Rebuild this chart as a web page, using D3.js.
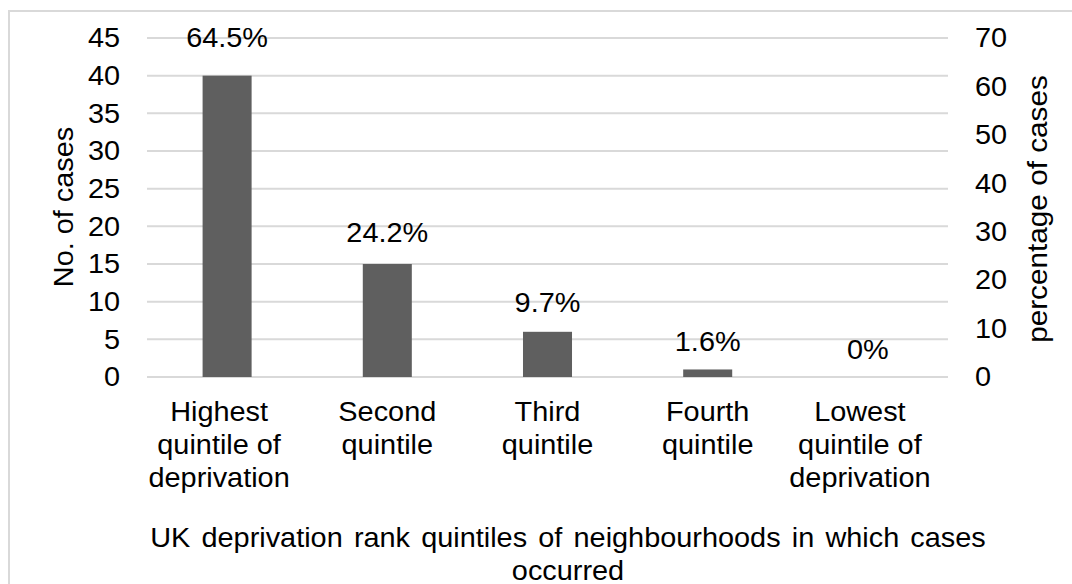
<!DOCTYPE html>
<html>
<head>
<meta charset="utf-8">
<script src="https://cdn.jsdelivr.net/npm/d3@7"></script>
<style>
  html, body { margin: 0; padding: 0; background: #fff; }
  text { font-family: "Liberation Sans", Arial, sans-serif; fill: #000; }
</style>
</head>
<body>
<svg id="chart" width="1072" height="584"></svg>
<script>
const categories = [
  ["Highest", "quintile of", "deprivation"],
  ["Second", "quintile"],
  ["Third", "quintile"],
  ["Fourth", "quintile"],
  ["Lowest", "quintile of", "deprivation"]
];
const cases = [40, 15, 6, 1, 0];
const percents = [64.5, 24.2, 9.7, 1.6, 0];
const percentLabels = ["64.5%", "24.2%", "9.7%", "1.6%", "0%"];
const leftTicks = [0, 5, 10, 15, 20, 25, 30, 35, 40, 45];
const rightTicks = [0, 10, 20, 30, 40, 50, 60, 70];
const leftTitle = "No. of cases";
const rightTitle = "percentage of cases";
const xTitle = ["UK deprivation rank quintiles of neighbourhoods in which cases", "occurred"];

const svg = d3.select("#chart");
const FS = 27.5;
const SX = 1.05;
const plot = { left: 147, right: 948, top: 38, bottom: 377 };

// outer border
svg.append("rect").attr("x", 9).attr("y", 11).attr("width", 1100).attr("height", 620)
  .attr("fill", "none").attr("stroke", "#d9d9d9").attr("stroke-width", 2);

const x = d3.scaleBand().domain(d3.range(categories.length))
  .range([plot.left, plot.right]).paddingInner(0.694).paddingOuter(0.347);
const y = d3.scaleLinear().domain([0, 45]).range([plot.bottom, plot.top]);
const y2 = d3.scaleLinear().domain([0, 70]).range([plot.bottom, plot.top]);

// gridlines
svg.append("g").selectAll("line").data(leftTicks).join("line")
  .attr("x1", plot.left).attr("x2", plot.right)
  .attr("y1", d => y(d)).attr("y2", d => y(d))
  .attr("stroke", "#d9d9d9").attr("stroke-width", 2);

// left axis
const la = svg.append("g").attr("transform", `translate(${plot.left},0)`)
  .call(d3.axisLeft(y).tickValues(leftTicks).tickSize(0).tickPadding(27));
la.select(".domain").remove();
la.selectAll("text").attr("font-size", FS).attr("font-family", "Liberation Sans, Arial, sans-serif").attr("fill", "#000")
  .attr("x", -27 / SX).attr("transform", `scale(${SX},1)`);

// right axis
const ra = svg.append("g").attr("transform", `translate(${plot.right},0)`)
  .call(d3.axisRight(y2).tickValues(rightTicks).tickSize(0).tickPadding(27));
ra.select(".domain").remove();
ra.selectAll("text").attr("font-size", FS).attr("font-family", "Liberation Sans, Arial, sans-serif").attr("fill", "#000")
  .attr("x", 27 / SX).attr("transform", `scale(${SX},1)`);

// bars
svg.append("g").selectAll("rect").data(cases).join("rect")
  .attr("x", (d, i) => x(i)).attr("width", x.bandwidth())
  .attr("y", d => y(d)).attr("height", d => y(0) - y(d))
  .attr("fill", "#5f5f5f");

// data labels (positioned on the secondary percentage scale)
svg.append("g").selectAll("text").data(percents).join("text")
  .attr("transform", (d, i) => `translate(${x(i) + x.bandwidth() / 2},${y2(d) - 27.5}) scale(${SX},1)`)
  .attr("dy", "0.35em")
  .attr("text-anchor", "middle").attr("font-size", FS)
  .text((d, i) => percentLabels[i]);

// category labels (three-line labels sit slightly left of centre in the original)
const cl = svg.append("g").selectAll("text").data(categories).join("text")
  .attr("text-anchor", "middle").attr("font-size", FS)
  .attr("transform", (d, i) => `translate(${x(i) + x.bandwidth() / 2 - (d.length > 2 ? 8 : 0)},421) scale(${SX},1)`);
cl.selectAll("tspan").data(d => d).join("tspan")
  .attr("x", 0).attr("y", (d, j) => j * 33).text(d => d);

// axis titles
svg.append("text").attr("text-anchor", "middle").attr("font-size", FS)
  .attr("transform", `translate(63,207) rotate(-90) scale(${SX},1)`).attr("dy", "0.35em").text(leftTitle);
svg.append("text").attr("text-anchor", "middle").attr("font-size", FS)
  .attr("transform", `translate(1037,209) rotate(-90) scale(${SX * 1.03},1)`).attr("dy", "0.35em").text(rightTitle);

svg.append("g").selectAll("text").data(xTitle).join("text")
  .attr("text-anchor", "middle").attr("font-size", FS)
  .attr("transform", (d, i) => `translate(568,${537 + i * 33}) scale(${SX},1)`)
  .attr("dy", "0.35em").attr("word-spacing", 3).text(d => d);
</script>
</body>
</html>
